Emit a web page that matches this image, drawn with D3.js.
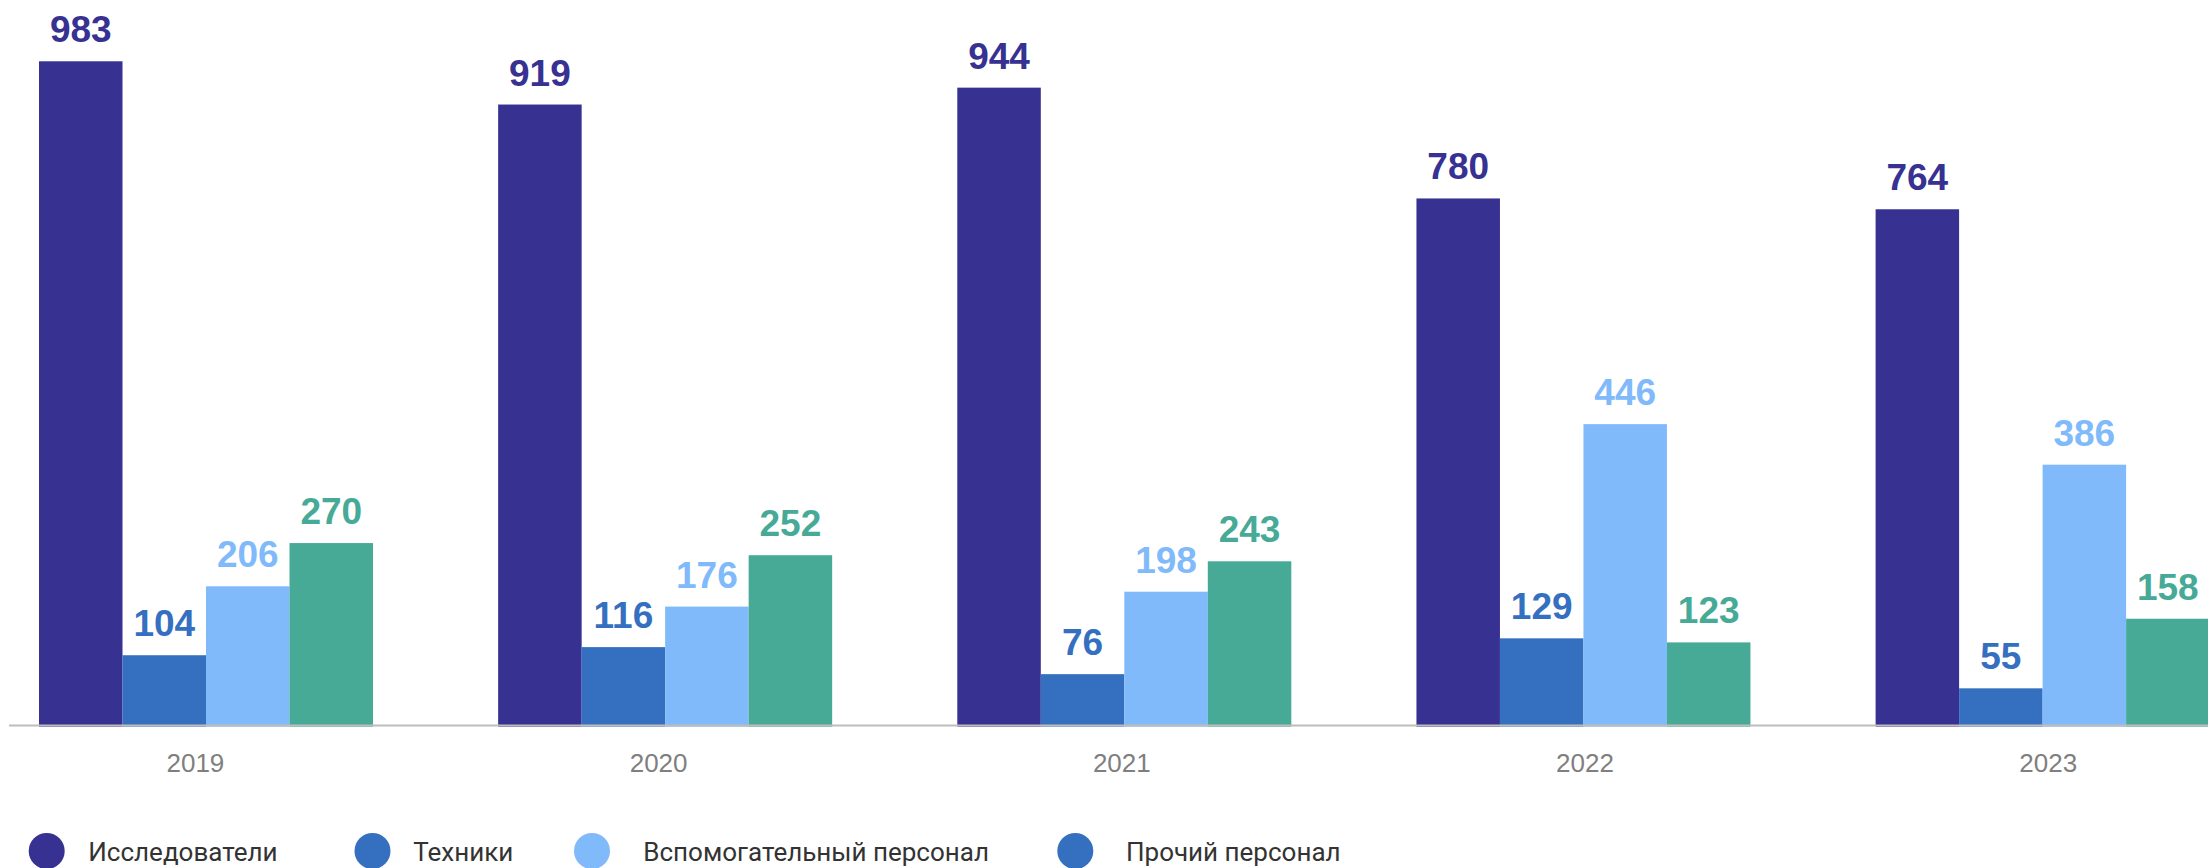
<!DOCTYPE html>
<html>
<head>
<meta charset="utf-8">
<script src="https://cdn.jsdelivr.net/npm/d3@7"></script>
<style>
  html, body { margin: 0; padding: 0; background: #fff; }
  svg { display: block; }
</style>
</head>
<body>
<svg id="chart" width="2208" height="868"></svg>
<script>
// ---- data ----
const years = ["2019", "2020", "2021", "2022", "2023"];
const seriesNames = ["Исследователи", "Техники", "Вспомогательный персонал", "Прочий персонал"];
const researchers = [983, 919, 944, 780, 764];
const technicians = [104, 116, 76, 129, 55];
const support = [206, 176, 198, 446, 386];
const other = [270, 252, 243, 123, 158];
const seriesValues = [researchers, technicians, support, other];
const barColors = ["#373192", "#3570c0", "#80bafa", "#46aa97"];
const legendColors = ["#373192", "#3570c0", "#80bafa", "#3570c0"];

// ---- layout ----
const W = 2208, H = 868;
const baseY = 725.5;
const svg = d3.select("#chart");

const y = d3.scaleLinear().domain([0, 1000]).range([baseY, baseY - 675.7]);
const x0 = d3.scaleBand().domain(years).range([39, 2209.6]).paddingInner(1 - 334 / 459.15).paddingOuter(0);
const x1 = d3.scaleBand().domain(d3.range(seriesNames.length)).range([0, x0.bandwidth()]).padding(0);
const xLabel = d3.scalePoint().domain(years).range([195.4, 2048.2]);

const rows = [];
years.forEach((yr, i) => {
  seriesValues.forEach((vals, s) => rows.push({ year: yr, s, v: vals[i] }));
});

const g = svg.append("g");
g.selectAll("rect.bar").data(rows).join("rect")
  .attr("class", "bar")
  .attr("x", d => x0(d.year) + x1(d.s))
  .attr("y", d => y(d.v))
  .attr("width", x1.bandwidth())
  .attr("height", d => y(0) - y(d.v) + 1.2)
  .attr("fill", d => barColors[d.s]);

g.selectAll("text.val").data(rows).join("text")
  .attr("class", "val")
  .attr("x", d => x0(d.year) + x1(d.s) + x1.bandwidth() / 2)
  .attr("y", d => y(d.v) - 19)
  .attr("text-anchor", "middle")
  .attr("font-family", "'Liberation Sans', Arial, sans-serif")
  .attr("font-weight", "bold")
  .attr("font-size", 37)
  .attr("fill", d => barColors[d.s])
  .text(d => d.v);

// axis line
svg.append("line")
  .attr("x1", 9).attr("x2", W)
  .attr("y1", baseY).attr("y2", baseY)
  .attr("stroke", "#bdbdbd").attr("stroke-width", 2);

// year labels
svg.selectAll("text.year").data(years).join("text")
  .attr("class", "year")
  .attr("x", d => xLabel(d))
  .attr("y", 772)
  .attr("text-anchor", "middle")
  .attr("font-family", "'Liberation Sans', Arial, sans-serif")
  .attr("font-size", 26)
  .attr("fill", "#7f7f7f")
  .text(d => d);

// legend
const legendCircleX = [46.7, 372.5, 592, 1075.3];
const legendTextX = [88.3, 413.3, 643.3, 1126];
const lg = svg.selectAll("g.leg").data(seriesNames).join("g")
  .attr("class", "leg");
lg.append("circle")
  .attr("cx", (d, i) => legendCircleX[i]).attr("cy", 851)
  .attr("r", 18).attr("fill", (d, i) => legendColors[i]);
lg.append("text")
  .attr("x", (d, i) => legendTextX[i]).attr("y", 860.5)
  .attr("font-family", "Roboto, 'Liberation Sans', Arial, sans-serif")
  .attr("font-size", 26)
  .attr("fill", "#333")
  .text(d => d);
</script>
</body>
</html>
